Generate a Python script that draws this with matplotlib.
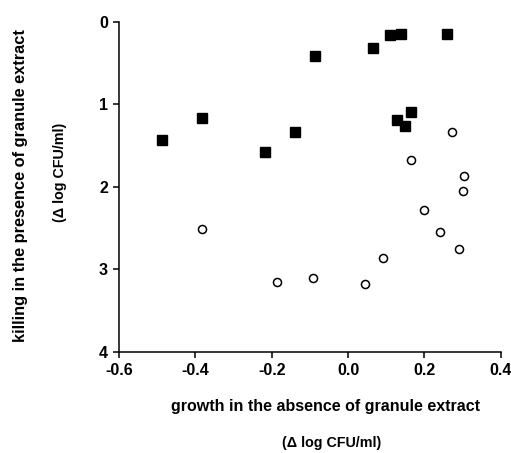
import matplotlib.pyplot as plt

plt.rcParams['font.family'] = ['Liberation Sans', 'DejaVu Sans']
plt.rcParams['font.weight'] = 'bold'

# filled squares
sq_x = [-0.487, -0.382, -0.217, -0.140, -0.088, 0.066, 0.111, 0.139, 0.258, 0.164, 0.128, 0.149]
sq_y = [1.43, 1.16, 1.58, 1.34, 0.41, 0.32, 0.16, 0.14, 0.14, 1.09, 1.19, 1.26]

# open circles
ci_x = [0.271, 0.164, 0.303, 0.300, 0.198, -0.382, -0.187, -0.092, 0.043, 0.092, 0.240, 0.291]
ci_y = [1.34, 1.68, 1.87, 2.05, 2.28, 2.51, 3.16, 3.11, 3.18, 2.86, 2.55, 2.75]

xticks = [-0.6, -0.4, -0.2, 0.0, 0.2, 0.4]
yticks = [0, 1, 2, 3, 4]

fig = plt.figure(figsize=(5.11, 4.53), dpi=100)
ax = fig.add_axes([0.233, 0.2236, 0.747, 0.7278])

ax.plot(sq_x, sq_y, 's', color='black', markersize=7.2, clip_on=False)
ax.plot(ci_x, ci_y, 'o', markerfacecolor='white', markeredgecolor='black',
        markersize=5.8, markeredgewidth=1.1, clip_on=False)

ax.set_xlim(-0.6, 0.4)
ax.set_ylim(4, 0)
ax.set_xticks(xticks)
ax.set_xticklabels(['%.1f' % v for v in xticks])
ax.set_yticks(yticks)

for s in ['top', 'right']:
    ax.spines[s].set_visible(False)
for s in ['left', 'bottom']:
    ax.spines[s].set_linewidth(1.1)
ax.tick_params(direction='out', length=4, width=1.1, labelsize=11.5, pad=4)
for lab in ax.get_xticklabels() + ax.get_yticklabels():
    lab.set_fontweight('bold')

fig.text(325 / 511, 1 - 407 / 453, 'growth in the absence of granule extract',
         ha='center', va='center', fontsize=11.5, fontweight='bold')
fig.text(332 / 511, 1 - 443 / 453, '(\u0394 log CFU/ml)',
         ha='center', va='center', fontsize=10.3, fontweight='bold')
fig.text(21 / 511, 1 - 186 / 453, 'killing in the presence of granule extract',
         ha='center', va='center', rotation=90, fontsize=11.8, fontweight='bold')
fig.text(60 / 511, 1 - 172 / 453, '(\u0394 log CFU/ml)',
         ha='center', va='center', rotation=90, fontsize=10.3, fontweight='bold')

fig.savefig('out.png', dpi=100)
